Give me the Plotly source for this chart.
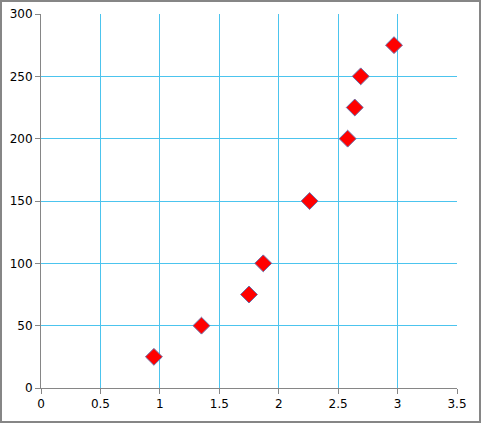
import plotly.graph_objects as go

x_vals = [0.95, 1.35, 1.75, 1.87, 2.26, 2.58, 2.64, 2.69, 2.97]
y_vals = [25, 50, 75, 100, 150, 200, 225, 250, 275]

W, H = 481, 423
ml, mr, mt, mb = 41, 24, 14, 35
pw, ph = W - ml - mr, H - mt - mb

fig = go.Figure(go.Scatter(
    x=x_vals, y=y_vals, mode="markers",
    marker=dict(symbol="diamond", size=13, color="#FF0000",
                line=dict(color="#6A6FA8", width=1)),
))

axis_common = dict(
    showline=True, linecolor="#868686", linewidth=1,
    ticks="outside", ticklen=5, tickcolor="#868686",
    showgrid=True, gridcolor="#4CC4EE", gridwidth=1,
    zeroline=False, automargin=False,
    tickfont=dict(family="DejaVu Sans", size=12, color="#000000"),
)

fig.update_layout(
    template="none",
    width=W, height=H,
    margin=dict(l=ml, r=mr, t=mt, b=mb, pad=0),
    paper_bgcolor="white", plot_bgcolor="white",
    showlegend=False,
    xaxis=dict(range=[0, 3.5], dtick=0.5, **axis_common),
    yaxis=dict(range=[0, 300], dtick=50, **axis_common),
    shapes=[dict(
        type="rect", xref="paper", yref="paper",
        x0=(1 - ml) / pw, x1=(W - 1 - ml) / pw,
        y0=(H - mb - (H - 1)) / ph, y1=(H - mb - 1) / ph,
        line=dict(color="#868686", width=2), layer="above",
    )],
)

fig.write_html(
    "out.html",
    config={"displayModeBar": False},
    post_script="document.body.style.margin='0';document.body.style.overflow='hidden';",
)
